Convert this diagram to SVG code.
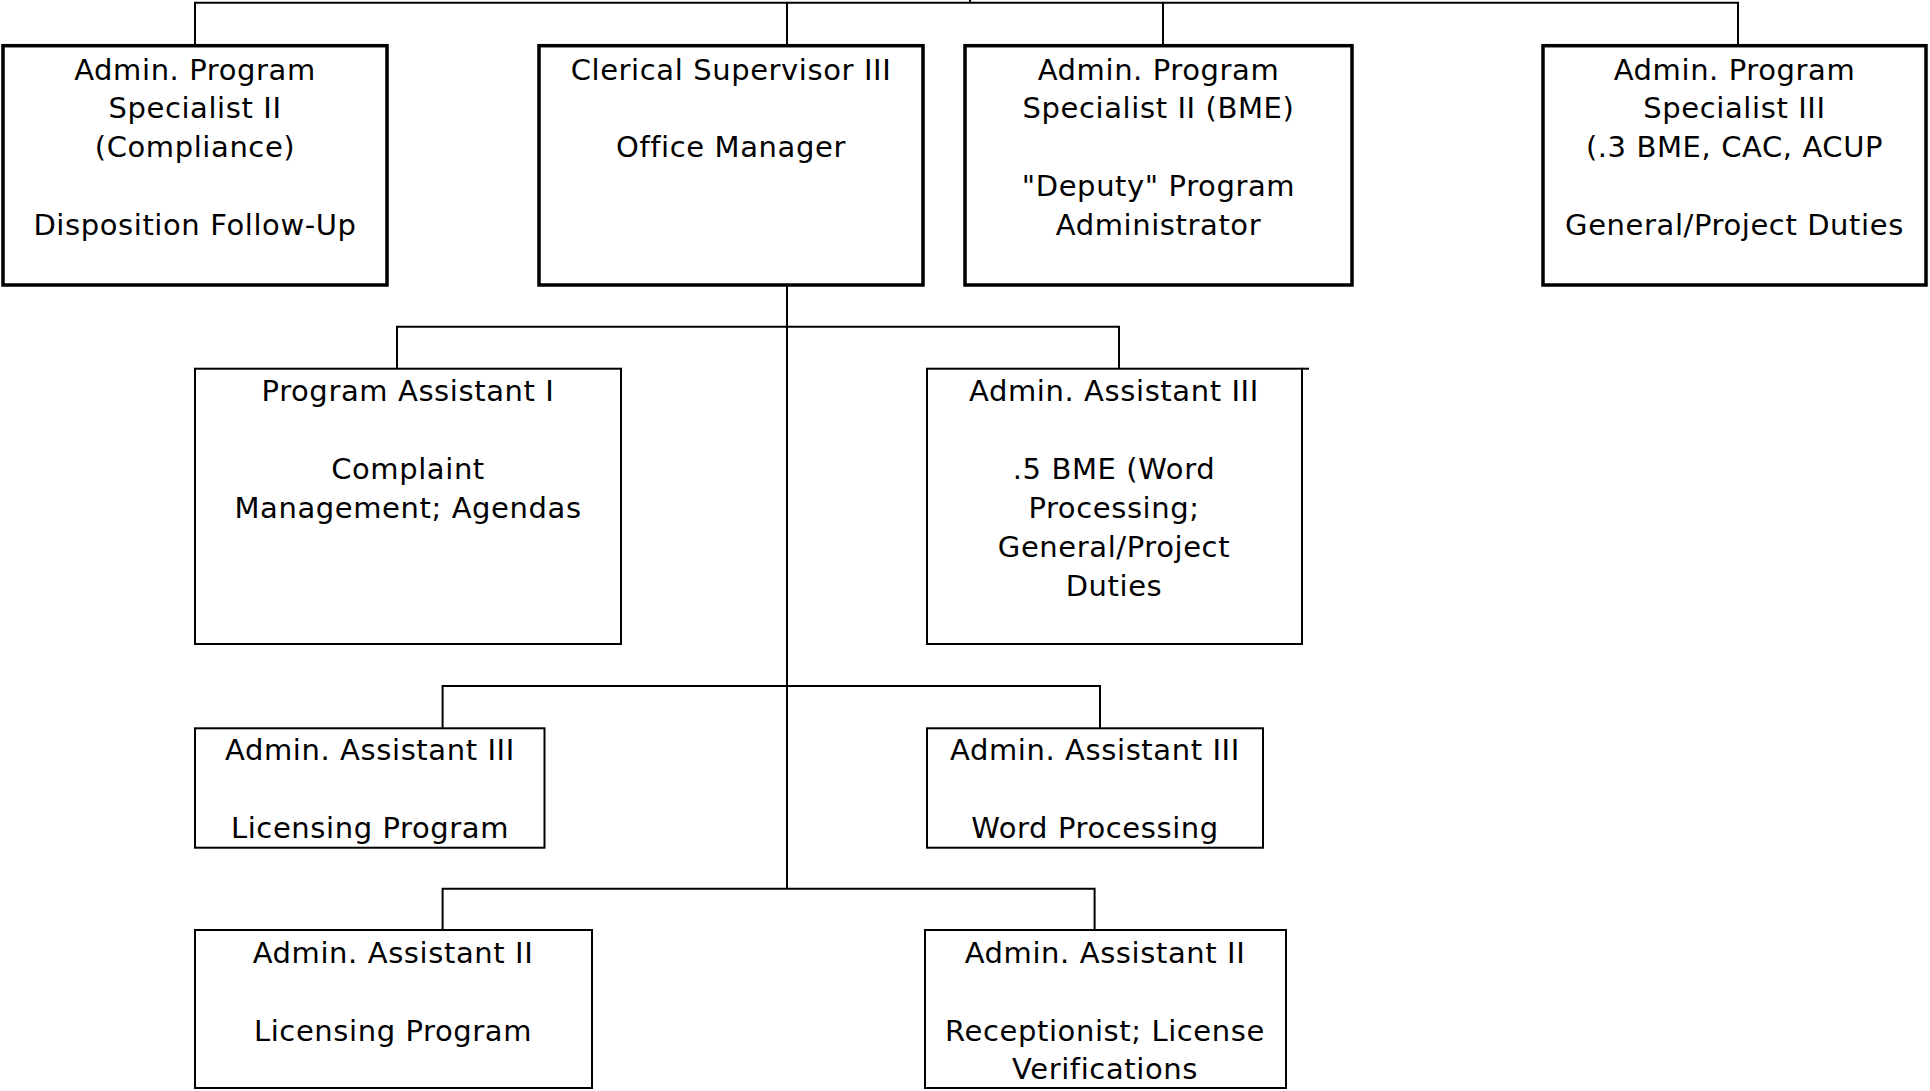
<svg xmlns="http://www.w3.org/2000/svg" width="1930" height="1091" viewBox="0 0 1930 1091">
<style>
.bg{fill:#fff}
.thick{fill:#fff;stroke:#000;stroke-width:3.5}
.thin{fill:#fff;stroke:#000;stroke-width:2}
.conn{fill:none;stroke:#000;stroke-width:2}
text{font-family:"DejaVu Sans","Liberation Sans",sans-serif;font-size:29px;letter-spacing:0.6px;fill:#000;text-anchor:middle}
</style>
<rect class="bg" x="0" y="0" width="1930" height="1091"/>
<g id="connectors">
<path class="conn" d="M195,45 V2.7 H1738 V45"/>
<path class="conn" d="M970,0 V2.7"/>
<path class="conn" d="M787,2.7 V45"/>
<path class="conn" d="M1163,2.7 V45"/>
<path class="conn" d="M787,285 V888.7"/>
<path class="conn" d="M397,368.7 V326.7 H1119 V368.7"/>
<path class="conn" d="M442.6,728.3 V686 H1100 V728.3"/>
<path class="conn" d="M442.6,930 V888.7 H1094.6 V930"/>
</g>
<g id="n1">
<rect class="thick" x="3" y="45.7" width="384" height="239.3"/>
<text x="195" y="80">Admin. Program</text>
<text x="195" y="118">Specialist II</text>
<text x="195" y="157">(Compliance)</text>
<text x="195" y="235">Disposition Follow-Up</text>
</g>
<g id="n2">
<rect class="thick" x="539" y="45.7" width="384" height="239.3"/>
<text x="731" y="80">Clerical Supervisor III</text>
<text x="731" y="157">Office Manager</text>
</g>
<g id="n3">
<rect class="thick" x="965" y="45.7" width="387" height="239.3"/>
<text x="1158.5" y="80">Admin. Program</text>
<text x="1158.5" y="118">Specialist II (BME)</text>
<text x="1158.5" y="196">"Deputy" Program</text>
<text x="1158.5" y="235">Administrator</text>
</g>
<g id="n4">
<rect class="thick" x="1543" y="45.7" width="383" height="239.3"/>
<text x="1734.5" y="80">Admin. Program</text>
<text x="1734.5" y="118">Specialist III</text>
<text x="1734.5" y="157">(.3 BME, CAC, ACUP</text>
<text x="1734.5" y="235">General/Project Duties</text>
</g>
<g id="n5">
<rect class="thin" x="195" y="368.7" width="426" height="275.3"/>
<text x="408" y="401">Program Assistant I</text>
<text x="408" y="479">Complaint</text>
<text x="408" y="518">Management; Agendas</text>
</g>
<g id="n6">
<rect class="thin" x="927" y="368.7" width="375" height="275.3"/>
<path class="conn" d="M1302,368.7 H1309"/>
<text x="1114" y="401">Admin. Assistant III</text>
<text x="1114" y="479">.5 BME (Word</text>
<text x="1114" y="518">Processing;</text>
<text x="1114" y="557">General/Project</text>
<text x="1114" y="596">Duties</text>
</g>
<g id="n7">
<rect class="thin" x="195" y="728.3" width="349.5" height="119.4"/>
<text x="370" y="760">Admin. Assistant III</text>
<text x="370" y="838">Licensing Program</text>
</g>
<g id="n8">
<rect class="thin" x="927" y="728.3" width="336" height="119.4"/>
<text x="1095" y="760">Admin. Assistant III</text>
<text x="1095" y="838">Word Processing</text>
</g>
<g id="n9">
<rect class="thin" x="195" y="930" width="397" height="158"/>
<text x="393" y="963">Admin. Assistant II</text>
<text x="393" y="1041">Licensing Program</text>
</g>
<g id="n10">
<rect class="thin" x="925" y="930" width="361" height="158"/>
<text x="1105" y="963">Admin. Assistant II</text>
<text x="1105" y="1041">Receptionist; License</text>
<text x="1105" y="1079">Verifications</text>
</g>
</svg>
